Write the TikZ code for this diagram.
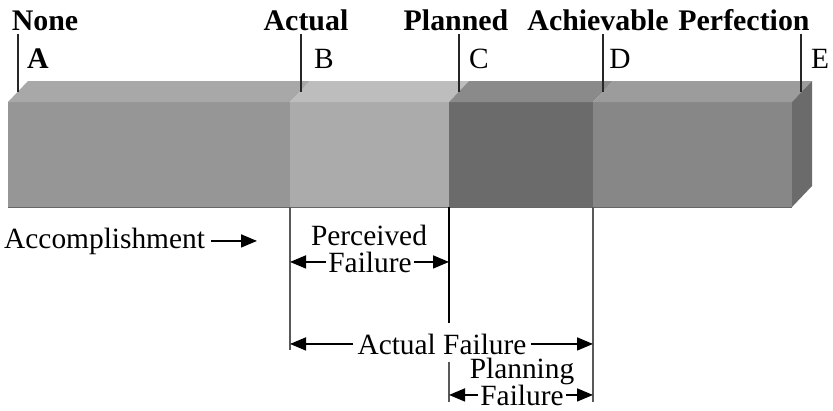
\documentclass[tikz,border=0pt]{standalone}
\usepackage{fontspec}
\setmainfont{Liberation Serif}
\usetikzlibrary{arrows.meta}
\definecolor{fA}{gray}{0.59}\definecolor{tA}{gray}{0.66}
\definecolor{fB}{gray}{0.67}\definecolor{tB}{gray}{0.74}
\definecolor{fC}{gray}{0.42}\definecolor{tC}{gray}{0.54}
\definecolor{fD}{gray}{0.53}\definecolor{tD}{gray}{0.61}
\definecolor{sD}{gray}{0.42}
\begin{document}
\begin{tikzpicture}[x=1bp,y=-1bp,
  lbl/.style={font=\fontsize{29.5}{25}\selectfont, inner sep=0pt, anchor=base},
  blbl/.style={font=\fontsize{30}{25}\selectfont\bfseries, inner sep=0pt, anchor=base},
  tickline/.style={line width=1.2bp, black!85},
  guide/.style={line width=1.2bp, black!65},
  guideb/.style={line width=1.2bp, black},
  arr/.style={-{Triangle[length=16bp,width=13bp]}, line width=1.6bp},
  txtarr/.style={inner xsep=2bp, inner ysep=0pt, anchor=base, font=\fontsize{29.5}{25}\selectfont}]
\useasboundingbox (0,0) rectangle (833,410);

% segment boundaries (front face x)
\coordinate (xA) at (8,102);
\coordinate (xB) at (290,102);
\coordinate (xC) at (449,102);
\coordinate (xD) at (593,102);
\coordinate (xE) at (792,102);

% faces
\newcommand{\seg}[4]{%
  \fill[#3] (#1,102) rectangle (#2,207);
  \fill[#4] (#1,102) -- (#1+20,81) -- (#2+20,81) -- (#2,102) -- cycle;}
\seg{8}{290}{fA}{tA}
\seg{290}{449}{fB}{tB}
\seg{449}{593}{fC}{tC}
\seg{593}{792}{fD}{tD}
\fill[sD] (792,102) -- (812,81) -- (812,186) -- (792,207) -- cycle;
\draw[line width=0.8bp, black!60] (8,207) -- (792,207);

% top labels
\node[blbl] (none) at (45,30) {None};
\node[blbl] (actual) at (306,30) {Actual};
\node[blbl] (planned) at (456,30) {Planned};
\node[blbl] (achiev) at (598,30) {Achievable};
\node[blbl] (perf) at (744,30) {Perfection};
\node[blbl] (la) at (38,68) {A};
\node[lbl] (lb) at (324,68) {B};
\node[lbl] (lc) at (479,68) {C};
\node[lbl] (ld) at (620,68) {D};
\node[lbl] (le) at (820,68) {E};

% ticks on the top face
\coordinate (tA) at (18,92); \coordinate (tA0) at (18,34);
\coordinate (tB) at (301,92); \coordinate (tB0) at (301,34);
\coordinate (tC) at (459,92); \coordinate (tC0) at (459,34);
\coordinate (tD) at (603,92); \coordinate (tD0) at (603,34);
\coordinate (tE) at (801,92); \coordinate (tE0) at (801,34);
\foreach \t in {tA,tB,tC,tD,tE} \draw[tickline] (\t0) -- (\t);

% guide lines below
\coordinate (gB0) at (290,207); \coordinate (gB1) at (290,350);
\coordinate (gC0) at (449,207); \coordinate (gC1) at (449,323);
\coordinate (gC2) at (449,362); \coordinate (gC3) at (449,402);
\coordinate (gD0) at (593,207); \coordinate (gD1) at (593,402);
\draw[guide] (gB0) -- (gB1);
\draw[guideb] (gC0) -- (gC1);
\draw[guide] (gC2) -- (gC3);
\draw[guide] (gD0) -- (gD1);

% Accomplishment
\node[txtarr, anchor=base west, inner xsep=0pt] (acc) at (4,248) {Accomplishment};
\coordinate (accend) at (257,240);
\draw[arr] (acc.east) ++(6,0) -- (accend |- acc.east);

% Perceived Failure
\node[lbl] (perc) at (369,245) {Perceived};
\node[txtarr] (pf) at (370,272) {Failure};
\draw[arr] (pf.west) -- (pf.west -| gB0);
\draw[arr] (pf.east) -- (pf.east -| gC0);

% Actual Failure
\node[txtarr, inner xsep=4bp] (af) at (442,354) {Actual Failure};
\draw[arr] (af.west) -- (af.west -| gB0);
\draw[arr] (af.east) -- (af.east -| gD0);

% Planning Failure
\node[lbl] (plan) at (522,378) {Planning};
\node[txtarr] (plf) at (522,405) {Failure};
\draw[arr] (plf.west) -- (plf.west -| gC0);
\draw[arr] (plf.east) -- (plf.east -| gD0);
\end{tikzpicture}
\end{document}
